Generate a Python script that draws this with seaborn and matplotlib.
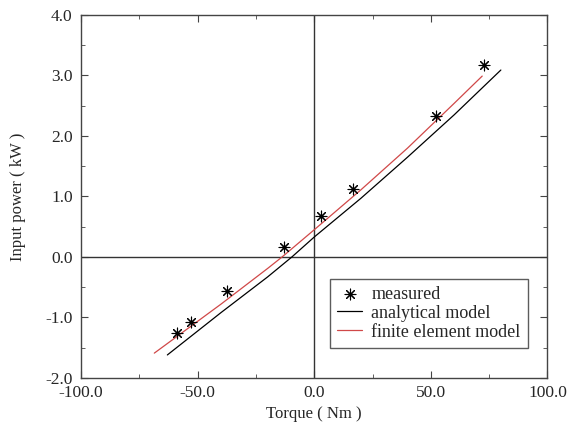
import matplotlib
matplotlib.use('Agg')
import matplotlib.pyplot as plt
import seaborn as sns
import pandas as pd
import numpy as np
from matplotlib.ticker import MultipleLocator, FormatStrFormatter

# measured points
meas_torque = [-58.8, -52.9, -37.4, -13.2, 2.9, 16.8, 52.3, 72.6]
meas_power = [-1.25, -1.07, -0.56, 0.16, 0.67, 1.12, 2.33, 3.17]

# analytical model
ana_torque = [-63, -40, -20, -9.6, 0, 20, 40, 60, 80]
ana_power = [-1.62, -0.92, -0.33, 0.0, 0.33, 0.97, 1.65, 2.35, 3.09]

# finite element model
fem_torque = [-68.6, -40, -20, -13.8, 0, 20, 40, 60, 72]
fem_power = [-1.59, -0.78, -0.19, 0.0, 0.45, 1.11, 1.80, 2.54, 2.99]

sns.set_style('ticks')
plt.rcParams['font.family'] = ['Liberation Serif', 'DejaVu Serif']
plt.rcParams['axes.unicode_minus'] = False
plt.rcParams['xtick.direction'] = 'in'
plt.rcParams['ytick.direction'] = 'in'

fig = plt.figure(figsize=(5.67, 4.28), dpi=100)
ax = fig.add_axes([0.143, 0.117, 0.8226, 0.848])

ax.axhline(0, color='#333333', lw=1.0, zorder=1)
ax.axvline(0, color='#333333', lw=1.0, zorder=1)

sns.lineplot(x=ana_torque, y=ana_power, ax=ax, color='black', lw=0.9,
             label='analytical model', sort=False)
sns.lineplot(x=fem_torque, y=fem_power, ax=ax, color='#d04848', lw=0.9,
             label='finite element model', sort=False)
sns.scatterplot(x=meas_torque, y=meas_power, ax=ax, marker=(8, 2, 0), s=60,
                color='black', linewidth=0.8, label='measured', zorder=5)

ax.set_xlim(-100, 100)
ax.set_ylim(-2, 4)
ax.xaxis.set_major_locator(MultipleLocator(50))
ax.xaxis.set_minor_locator(MultipleLocator(25))
ax.yaxis.set_major_locator(MultipleLocator(1))
ax.yaxis.set_minor_locator(MultipleLocator(0.5))
ax.xaxis.set_major_formatter(FormatStrFormatter('%.1f'))
ax.yaxis.set_major_formatter(FormatStrFormatter('%.1f'))
ax.tick_params(which='both', top=True, right=True, labelsize=12.5, color='#444444')
ax.tick_params(which='major', length=5)
ax.tick_params(which='minor', length=3)
ax.tick_params(axis='x', pad=5)
ax.tick_params(axis='y', pad=6)
for s in ax.spines.values():
    s.set_color('#444444')
    s.set_linewidth(1.0)

ax.set_xlabel('Torque ( Nm )', fontsize=12)
ax.set_ylabel('Input power ( kW )', fontsize=12, labelpad=14)

handles, labels = ax.get_legend_handles_labels()
order = [2, 0, 1]
leg = ax.legend([handles[i] for i in order], [labels[i] for i in order],
                loc='lower right', bbox_to_anchor=(0.958, 0.083), fontsize=13,
                frameon=True, fancybox=False, edgecolor='#333333',
                handlelength=1.4, borderpad=0.4, labelspacing=0.1, handletextpad=0.5,
                borderaxespad=0)
leg.get_frame().set_linewidth(1.0)

fig.savefig('out.png', dpi=100)
